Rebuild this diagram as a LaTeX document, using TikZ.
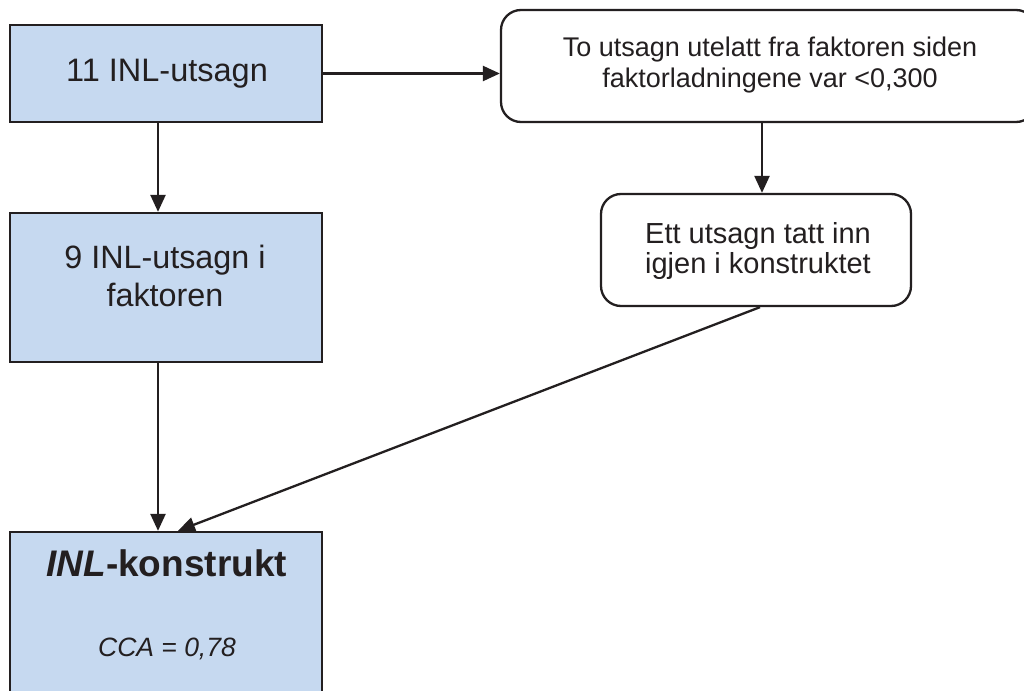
\documentclass[tikz,border=0pt]{standalone}
\usepackage{fontspec}
\setmainfont{Liberation Sans}
\usetikzlibrary{arrows.meta}
\definecolor{boxblue}{RGB}{198,217,240}
\definecolor{ink}{RGB}{35,31,32}
% two centred lines; the node's base is the first line's baseline
\newcommand\twolines[2]{\begin{tabular}[t]{@{}c@{}}#1\\#2\end{tabular}}
\begin{document}
\begin{tikzpicture}[x=1pt,y=-1pt,
  bluebox/.style={draw=ink,line width=2.3pt,fill=boxblue,rectangle,inner sep=0pt},
  roundbox/.style={draw=ink,line width=2.3pt,fill=white,rectangle,rounded corners=20pt,inner sep=0pt},
  txt/.style={anchor=base,inner sep=0pt,text=ink},
  arr/.style={draw=ink,line width=2.3pt,-{Triangle[length=17pt,width=15pt]}}
]
\clip (0,0) rectangle (1024,690);
\fill[white] (0,0) rectangle (1024,690);

% boxes
\node[bluebox,minimum width=312pt,minimum height=97pt] (A) at (166,73.5) {};
\node[bluebox,minimum width=312pt,minimum height=149pt] (B) at (166,287.5) {};
\node[bluebox,minimum width=312pt,minimum height=168pt] (C) at (166,616) {};
\node[roundbox,minimum width=535pt,minimum height=112pt] (D) at (768.5,66) {};
\node[roundbox,minimum width=310pt,minimum height=112pt] (E) at (756,250) {};

% texts
\node[txt,font=\fontsize{32.5}{37}\selectfont] (At) at (167,81.7) {11 INL-utsagn};
\node[txt,font=\fontsize{32.3}{37.7}\selectfont] (Bt) at (165,268.3) {\twolines{9 INL-utsagn i}{faktoren}};
\node[txt,font=\fontsize{37}{44}\selectfont] (Ct) at (166.7,576) {\bfseries{\itshape INL}-konstrukt};
\node[txt,font=\fontsize{26.5}{31}\itshape] (Cv) at (167,656) {CCA = 0,78};
\node[txt,font=\fontsize{27}{31.3}\selectfont] (Dt) at (770,56.7) {\twolines{To utsagn utelatt fra faktoren siden}{faktorladningene var <0,300}};
\node[txt,font=\fontsize{29}{30}\selectfont] (Et) at (758,243.3) {\twolines{Ett utsagn tatt inn}{igjen i konstruktet}};

% connectors
\draw[arr] (A.east) -- (A.east -| D.west);
\draw[arr] ([xshift=-8pt]A.south) -- ([xshift=-8pt]B.north);
\draw[arr] ([xshift=-8pt]B.south) -- ([xshift=-8pt]C.north);
\draw[arr] ([xshift=6pt]E.north |- D.south) -- ([xshift=6pt]E.north);
\draw[arr] ([xshift=4pt]E.south) -- ([xshift=12pt]C.north);
\end{tikzpicture}
\end{document}
